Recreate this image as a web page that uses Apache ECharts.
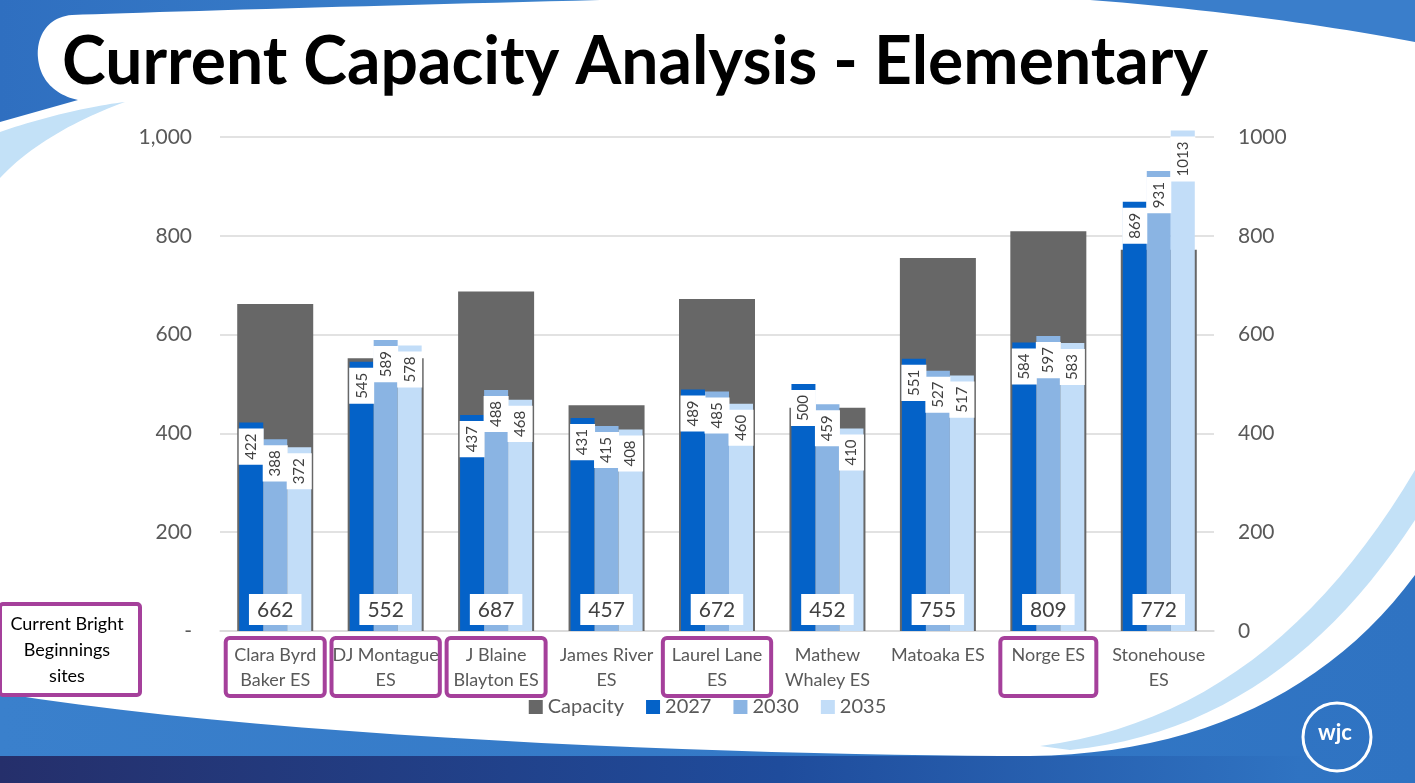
<!DOCTYPE html>
<html>
<head>
<meta charset="utf-8">
<script src="https://cdn.jsdelivr.net/npm/echarts@6/dist/echarts.min.js"></script>
<style>
  html, body { margin: 0; padding: 0; background: #fff; }
  #main { width: 1415px; height: 783px; }
</style>
</head>
<body>
<div id="main"></div>
<script>
// schools along the x axis
var schools = ['Clara Byrd\nBaker ES', 'DJ Montague\nES', 'J Blaine\nBlayton ES', 'James River\nES',
    'Laurel Lane\nES', 'Mathew\nWhaley ES', 'Matoaka ES', 'Norge ES', 'Stonehouse\nES'];
// current Bright Beginnings sites (boxed labels)
var brightSites = ['Clara Byrd\nBaker ES', 'DJ Montague\nES', 'J Blaine\nBlayton ES', 'Laurel Lane\nES', 'Norge ES'];

var capacity = [662, 552, 687, 457, 672, 452, 755, 809, 772];
var y2027 = [422, 545, 437, 431, 489, 500, 551, 584, 869];
var y2030 = [388, 589, 488, 415, 485, 459, 527, 597, 931];
var y2035 = [372, 578, 468, 408, 460, 410, 517, 583, 1013];

var purple = '#A5409B';
var font = 'Lato';

function catData() {
    let out = [];
    for (let i = 0; i < schools.length; ++i) {
        let s = schools[i];
        if (brightSites.indexOf(s) != -1) {
            let longest = Math.max.apply(null, s.split('\n').map(l => l.length));
            out.push({
                value: s,
                textStyle: {
                    borderColor: purple,
                    width: Math.max(90, longest * 9.3),
                    height: 50
                }
            });
        } else {
            out.push({value: s});
        }
    }
    return out;
}

function yearLabel() {
    return {
        show: true,
        position: 'insideTop',
        rotate: 90,
        align: 'right',
        verticalAlign: 'middle',
        distance: 6,
        fontFamily: font,
        fontSize: 15,
        lineHeight: 17,
        color: '#404040',
        backgroundColor: '#fff',
        padding: [4, 5, 4, 5]
    };
}

function hgrad(stops) {
    return {type: 'linear', x: 0, y: 0, x2: 1, y2: 0, colorStops: stops};
}

// turn a list of segments (points or cubic curves) into polygon points, for the slide swooshes
function swoosh(start, segs) {
    let pts = [start];
    let cur = start;
    segs.forEach(function(s) {
        if (s.length == 2) {
            pts.push(s);
            cur = s;
        } else {
            for (let k = 1; k <= 24; ++k) {
                let t = k / 24, u = 1 - t;
                pts.push([
                    u*u*u*cur[0] + 3*u*u*t*s[0] + 3*u*t*t*s[2] + t*t*t*s[4],
                    u*u*u*cur[1] + 3*u*u*t*s[1] + 3*u*t*t*s[3] + t*t*t*s[5]
                ]);
            }
            cur = [s[4], s[5]];
        }
    });
    return pts;
}

var chart = echarts.init(document.getElementById('main'));
chart.setOption({
    backgroundColor: '#fff',
    animation: false,
    textStyle: {fontFamily: font},
    graphic: [
        // slide decoration
        {type: 'polygon', z: -5,
            shape: {points: swoosh([0, 0], [[600, 0], [400, 5, 150, 12, 72, 15], [45, 17, 36, 40, 38, 58],
                [40, 80, 55, 95, 78, 100], [0, 122]])},
            style: {fill: hgrad([{offset: 0, color: '#2f6fc0'}, {offset: 1, color: '#3d84cd'}])}},
        {type: 'polygon', z: -5,
            shape: {points: swoosh([0, 132], [[40, 118, 90, 106, 125, 102], [80, 118, 30, 145, 0, 178]])},
            style: {fill: '#c3e1f7'}},
        {type: 'polygon', z: -5, shape: {points: swoosh([1090, 0], [[1415, 0], [1415, 42], [1330, 26, 1220, 10, 1090, 0]])},
            style: {fill: '#3a7ecb'}},
        {type: 'polygon', z: -5, shape: {points: swoosh([1040, 746], [[1200, 725, 1320, 630, 1415, 470], [1415, 520], [1330, 650, 1220, 735, 1070, 750]])},
            style: {fill: '#c3e1f7'}},
        {type: 'polygon', z: -5, shape: {points: swoosh([0, 693], [[300, 742, 800, 756, 1030, 756], [1200, 754, 1330, 690, 1415, 575], [1415, 783], [0, 783]])},
            style: {fill: hgrad([{offset: 0, color: '#3a80cc'}, {offset: 1, color: '#2f73c2'}])}},
        {type: 'rect', z: -4, shape: {x: 0, y: 756, width: 1300, height: 27},
            style: {fill: hgrad([{offset: 0, color: '#252f6b'}, {offset: 0.6, color: '#1f4c9c'}, {offset: 1, color: '#2f73c2'}])}},
        {type: 'circle', z: 5, shape: {cx: 1337, cy: 737, r: 34},
            style: {fill: 'none', stroke: '#fff', lineWidth: 3}},
        {type: 'text', z: 5, left: 1318, top: 722,
            style: {text: 'wjc', fill: '#fff', font: 'bold 22px Lato'}},
        // title
        {type: 'text', z: 5, left: 62, top: 30,
            style: {text: 'Current Capacity Analysis - Elementary', fill: '#000', font: 'bold 66px Lato'}},
        // annotation box
        {type: 'rect', z: 5, shape: {x: 0, y: 604, width: 140, height: 91, r: 3},
            style: {fill: '#fff', stroke: purple, lineWidth: 4}},
        {type: 'text', z: 6, x: 67, y: 611,
            style: {text: 'Current Bright\nBeginnings\nsites', align: 'center', fill: '#000',
                font: '18px Lato', lineHeight: 26}}
    ],
    legend: {
        left: 'center',
        top: 692,
        icon: 'rect',
        itemWidth: 14,
        itemHeight: 14,
        itemGap: 22,
        textStyle: {fontFamily: font, fontSize: 20, color: '#595959'},
        data: ['Capacity', '2027', '2030', '2035']
    },
    grid: {left: 220, right: 201, top: 137, bottom: 152},
    xAxis: [{
        type: 'category',
        data: catData(),
        axisTick: {show: false},
        axisLine: {lineStyle: {color: '#d9d9d9', width: 1.5}},
        axisLabel: {
            interval: 0,
            margin: 7,
            fontFamily: font,
            fontSize: 18,
            lineHeight: 25,
            color: '#595959',
            padding: [5, 3, 3, 3],
            borderWidth: 4,
            borderRadius: 4,
            borderColor: 'transparent'
        }
    }, {
        type: 'category',
        data: schools,
        show: false
    }],
    yAxis: [{
        type: 'value',
        min: 0,
        max: 1000,
        interval: 200,
        axisLine: {show: false},
        axisTick: {show: false},
        splitLine: {lineStyle: {color: '#d9d9d9', width: 1.5}},
        axisLabel: {
            margin: 28,
            fontFamily: font,
            fontSize: 21,
            color: '#595959',
            formatter: v => v == 0 ? '-' : v.toLocaleString('en-US')
        }
    }, {
        type: 'value',
        min: 0,
        max: 1000,
        interval: 200,
        axisLine: {show: false},
        axisTick: {show: false},
        splitLine: {show: false},
        axisLabel: {
            margin: 24,
            fontFamily: font,
            fontSize: 21,
            color: '#595959',
            formatter: v => String(v)
        }
    }],
    series: [{
        name: 'Capacity',
        type: 'bar',
        xAxisIndex: 0,
        yAxisIndex: 0,
        barWidth: 76,
        itemStyle: {color: '#676767'},
        label: {
            show: true,
            position: 'insideBottom',
            distance: 6,
            fontFamily: font,
            fontSize: 21,
            color: '#404040',
            backgroundColor: '#fff',
            padding: [6, 8, 4, 8]
        },
        data: capacity
    }, {
        name: '2027',
        type: 'bar',
        xAxisIndex: 1,
        yAxisIndex: 1,
        barWidth: 24,
        barGap: '0%',
        clip: false,
        itemStyle: {color: '#0462C8'},
        label: yearLabel(),
        data: y2027
    }, {
        name: '2030',
        type: 'bar',
        xAxisIndex: 1,
        yAxisIndex: 1,
        barWidth: 24,
        barGap: '0%',
        clip: false,
        itemStyle: {color: '#8AB4E3'},
        label: yearLabel(),
        data: y2030
    }, {
        name: '2035',
        type: 'bar',
        xAxisIndex: 1,
        yAxisIndex: 1,
        barWidth: 24,
        barGap: '0%',
        clip: false,
        itemStyle: {color: '#C2DDF8'},
        label: yearLabel(),
        data: y2035
    }]
});
</script>
</body>
</html>
